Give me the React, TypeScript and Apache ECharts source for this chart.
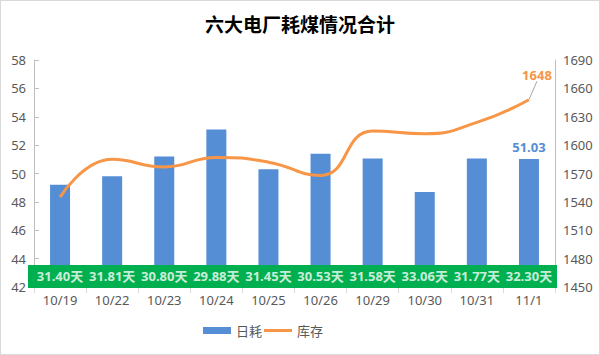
import React, { useEffect, useRef } from "react";
import * as echarts from "echarts";

const categories = ["10/19", "10/22", "10/23", "10/24", "10/25", "10/26", "10/29", "10/30", "10/31", "11/1"];
const dailyUse = [49.2, 49.8, 51.2, 53.1, 50.3, 51.4, 51.05, 48.7, 51.05, 51.03];
const stock = [1545, 1585, 1577, 1587, 1582, 1568, 1615, 1612, 1624, 1648];
const days = ["31.40天", "31.81天", "30.80天", "29.88天", "31.45天", "30.53天", "31.58天", "33.06天", "31.77天", "32.30天"];
const dayLabelLevel = [42.75, 42.75, 42.75, 42.75, 42.75, 42.75, 42.75, 42.75, 42.75, 42.75];

const FONT = "'Noto Sans', 'Noto Sans CJK SC', sans-serif";
const GRAY = "#595959";
const ORANGE = "#F79646";
const BLUE = "#558ED5";

export default function App() {
  const ref = useRef<HTMLDivElement>(null);
  useEffect(() => {
    if (!ref.current) return;
    const chart = echarts.init(ref.current, undefined, { renderer: "svg" });
    const last = dailyUse.length - 1;
    chart.setOption({
      animation: false,
      backgroundColor: "#ffffff",
      textStyle: { fontFamily: FONT },
      title: {
        text: "六大电厂耗煤情况合计",
        left: "center",
        top: 9,
        textStyle: { fontSize: 19, fontWeight: "bold", color: "#000000", fontFamily: "'Noto Sans CJK SC', sans-serif" },
      },
      grid: { left: 34, right: 45, top: 60, bottom: 68 },
      legend: {
        left: 203,
        top: 324,
        padding: 0,
        itemGap: 2,
        itemWidth: 28,
        itemHeight: 7,
        textStyle: { color: GRAY, fontSize: 13, fontFamily: "'Noto Sans CJK SC', sans-serif" },
        data: [
          { name: "日耗", icon: "rect", itemStyle: { color: BLUE } },
          { name: "库存", icon: "path://M0,0 L28,0 L28,3 L0,3 Z", itemStyle: { color: ORANGE } },
        ],
      },
      graphic: [
        {
          type: "rect",
          z: 50,
          shape: { x: 28, y: 265, width: 529, height: 23 },
          style: { fill: "#00B050" },
        },
      ],
      xAxis: {
        type: "category",
        data: categories,
        boundaryGap: true,
        axisLine: { show: true, lineStyle: { color: "#bfbfbf" } },
        axisTick: { show: true, length: 6, lineStyle: { color: "#d9d9d9" } },
        axisLabel: { color: GRAY, fontSize: 13, margin: 6 },
      },
      yAxis: [
        {
          type: "value",
          min: 42,
          max: 58,
          interval: 2,
          axisLine: { show: true, lineStyle: { color: "#bfbfbf" } },
          axisTick: { show: true, inside: true, length: 5, lineStyle: { color: "#bfbfbf" } },
          axisLabel: { color: GRAY, fontSize: 13, margin: 8 },
          splitLine: { show: false },
        },
        {
          type: "value",
          min: 1450,
          max: 1690,
          interval: 30,
          position: "right",
          axisLine: { show: true, lineStyle: { color: "#bfbfbf" } },
          axisTick: { show: false },
          axisLabel: { color: GRAY, fontSize: 13, margin: 8, formatter: (v: number) => String(v) },
          splitLine: { show: false },
        },
      ],
      series: [
        {
          name: "日耗",
          type: "bar",
          yAxisIndex: 0,
          barWidth: 20,
          itemStyle: { color: BLUE },
          data: dailyUse.map((v, i) =>
            i === last
              ? {
                  value: v,
                  label: {
                    show: true,
                    position: "top",
                    distance: 5,
                    color: BLUE,
                    fontWeight: "bold",
                    fontSize: 13,
                    formatter: (p: any) => Number(p.value).toFixed(2),
                  },
                }
              : v
          ),
        },
        {
          name: "库存",
          type: "line",
          yAxisIndex: 1,
          smooth: true,
          symbol: "circle",
          showSymbol: true,
          symbolSize: 1,
          lineStyle: { color: ORANGE, width: 3 },
          itemStyle: { color: "transparent", borderWidth: 0 },
          labelLine: { show: true, lineStyle: { color: "#a6a6a6", width: 1 } },
          labelLayout: (p: any) => (p.dataIndex === last ? { dx: 8, dy: -14 } : {}),
          data: stock.map((v, i) =>
            i === last
              ? {
                  value: v,
                  label: {
                    show: true,
                    position: "top",
                    distance: 4,
                    color: ORANGE,
                    fontWeight: "bold",
                    fontSize: 13,
                  },
                }
              : v
          ),
        },
        {
          name: "天数",
          type: "scatter",
          yAxisIndex: 0,
          z: 120,
          symbolSize: 1,
          itemStyle: { color: "transparent" },
          label: {
            show: true,
            position: "inside",
            color: "#ffffff",
            fontWeight: "bold",
            fontSize: 13,
            formatter: (p: any) => days[p.dataIndex],
          },
          data: dayLabelLevel,
        },
      ],
    });
    return () => chart.dispose();
  }, []);
  return (
    <div style={{ position: "fixed", left: 0, top: 0, width: 600, height: 355 }}>
      <div ref={ref} style={{ position: "absolute", left: 0, top: 0, width: 600, height: 355 }} />
      <div
        style={{
          position: "absolute",
          left: 0,
          top: 0,
          width: 600,
          height: 355,
          boxSizing: "border-box",
          border: "1px solid #d9d9d9",
          pointerEvents: "none",
        }}
      />
    </div>
  );
}
